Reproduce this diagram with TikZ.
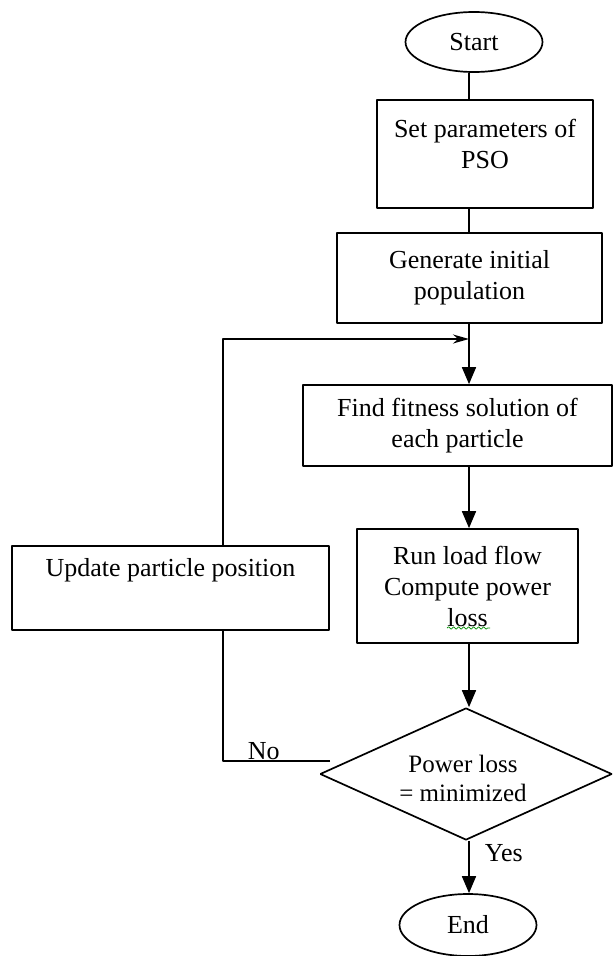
\documentclass[tikz,border=0pt]{standalone}
\usepackage{fontspec}
\setmainfont{Liberation Serif}
\usetikzlibrary{%
shapes,
arrows.meta,
decorations.pathmorphing}

\begin{document}
\begin{tikzpicture}[>={Triangle[length=17bp,width=14bp]},line join=bevel,
  box/.style={draw,line width=1.7bp,inner sep=0pt},
  txt/.style={align=center,inner sep=0pt,font=\fontsize{26bp}{31bp}\selectfont}]
  \pgfsetlinewidth{1.7bp}
  \useasboundingbox (0bp,0bp) rectangle (613bp,-956bp);
%%
  \coordinate (col) at (469bp,0bp);
  \coordinate (back) at (223bp,0bp);
  \coordinate (join) at (469bp,-339bp);
  \coordinate (nofoot) at (330bp,-761bp);
  % Node: start
  \node[box,txt,ellipse,minimum width=137bp,minimum height=60bp] (start) at (474bp,-42bp) {Start};
  % Node: params
  \node[box,minimum width=216bp,minimum height=108bp] (params) at (485bp,-154bp) {};
  \node[txt] (params-t) at (485bp,-144bp) {Set parameters of\\PSO};
  % Node: gen
  \node[box,txt,minimum width=265bp,minimum height=90bp] (gen) at (469.5bp,-278bp) {Generate initial\\population};
  % Node: fit
  \node[box,txt,minimum width=309bp,minimum height=81bp] (fit) at (457.5bp,-425.5bp) {Find fitness solution of\\each particle};
  % Node: flow
  \node[box,txt,minimum width=221bp,minimum height=114bp] (flow) at (467.5bp,-586bp) {Run load flow\\Compute power\\loss};
  % Node: update
  \node[box,minimum width=317bp,minimum height=84bp] (update) at (170.5bp,-588bp) {};
  \node[txt] (update-t) at (170.5bp,-570bp) {Update particle position};
  % Node: test
  \node[box,diamond,aspect=2.2,minimum width=292bp,minimum height=132bp] (test) at (466bp,-774bp) {};
  \node[txt,font=\fontsize{25bp}{29bp}\selectfont] (test-t) at (463bp,-778bp) {Power loss\\= minimized};
  % Node: end
  \node[box,txt,ellipse,minimum width=137bp,minimum height=62bp] (end) at (468bp,-925bp) {End};
  % spell-check mark under loss
  \draw[green!55!black,line width=0.7bp,decorate,decoration={snake,amplitude=1.2bp,segment length=5bp}]
    (447bp,-628bp) -- (490bp,-628bp);
%
  % Edge: start -> params
  \draw (start.south -| col) -- (params.north -| col);
  % Edge: params -> gen
  \draw (params.south -| col) -- (gen.north -| col);
  % Edge: gen -> fit
  \draw[->] (gen.south -| col) -- (fit.north -| col);
  % Edge: fit -> flow
  \draw[->] (fit.south -| col) -- (flow.north -| col);
  % Edge: flow -> test
  \draw[->] (flow.south -| col) -- (test.north -| col);
  % Edge: test -> end
  \draw[->] (test.south -| col) -- (end.north -| col);
  \node[txt,anchor=west] (yes) at (484bp,-853bp) {Yes};
  % Edge: test -> update
  \draw (nofoot) -| (update.south -| back);
  \node[txt,anchor=base west] (no) at (247bp,-759bp) {No};
  % Edge: update -> fit
  \draw[-{Stealth[length=16bp,width=9bp]}] (update.north -| back) |- (join);
%
\end{tikzpicture}
\end{document}
